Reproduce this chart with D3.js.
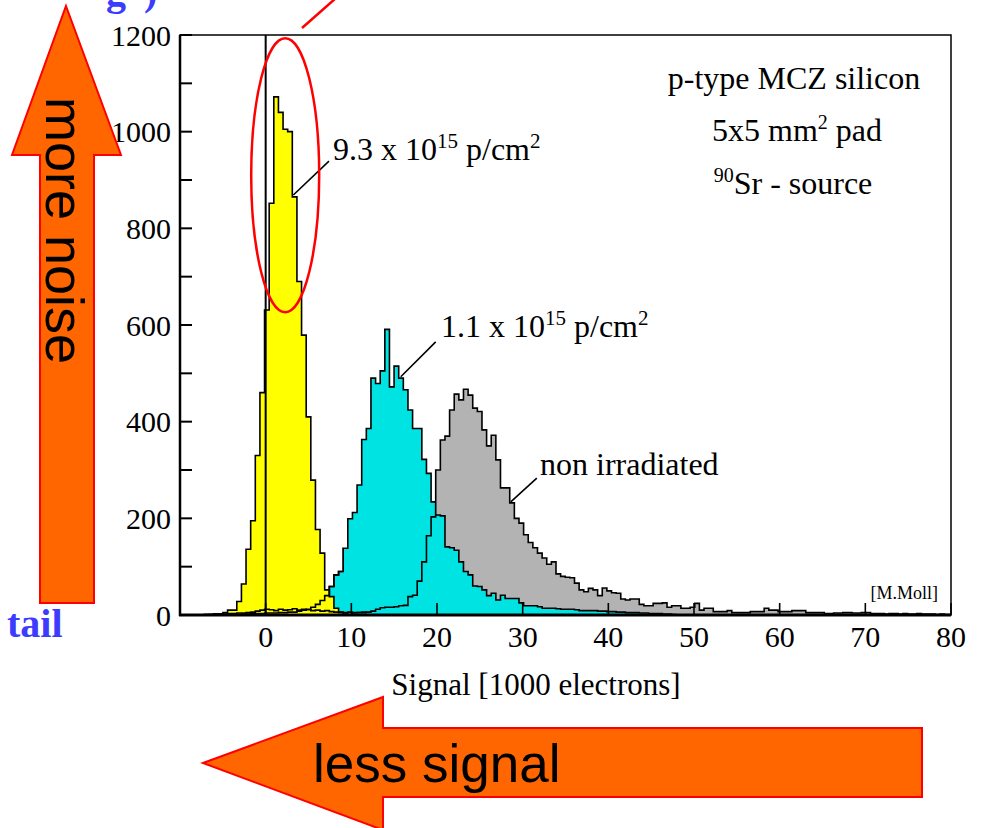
<!DOCTYPE html>
<html>
<head>
<meta charset="utf-8">
<script src="https://cdn.jsdelivr.net/npm/d3@7"></script>
<style>
  body { margin: 0; background: #fff; }
  svg { display: block; }
</style>
</head>
<body>
<svg id="chart" width="985" height="828"></svg>
<script>
// histogram bins: common width, each series given by the left edge of its first bin
const binWidth = 0.54;

const yellowStart = -6.61;   // 9.3 x 10^15 p/cm^2
const yellowCounts = [1, 2, 2, 5, 10, 10, 28, 64, 136, 195, 330, 460,
  631, 852, 1072, 1040, 1005, 1000, 865, 690, 579, 410, 279, 177, 128, 52, 38, 14, 5, 2];

const cyanStart = -3.91;     // 1.1 x 10^15 p/cm^2
const cyanCounts = [1, 1, 2, 2, 3, 3, 3, 4, 4, 4, 5, 5, 6, 6, 8, 10,
  12, 16, 22, 30, 40, 59, 83, 90, 138, 199, 212, 269, 363, 386, 490, 479, 505, 591,
  472, 515, 490, 466, 424, 386, 386, 322, 293, 234];

const cyan2Start = 10.13;
const cyan2Counts = [4, 5, 5, 6, 8, 12, 15, 16, 16, 17, 19, 20, 38, 41, 70, 110, 164, 203,
  207, 205, 141, 139, 134, 110, 90, 83, 60, 59, 52, 40, 45, 31, 41, 34, 34, 34, 25, 19,
  19, 19, 17, 14, 14, 14, 13, 12, 12, 12, 11, 9, 9, 9, 9, 8, 8, 7, 7, 6, 6, 5,
  5, 5, 4, 4, 3, 3, 3, 2, 2, 1];

const grayStart = -7.15;     // non irradiated
const grayCounts = [1, 1, 2, 2, 2, 3, 3, 4, 4, 5, 6,
  8, 10, 12, 11, 9, 12, 10, 11, 13, 10, 12, 11, 9, 10, 8, 9, 7,
  6, 6, 5, 6, 5, 5, 6, 5, 5, 4, 5, 5, 4, 5, 4, 5, 5, 6, 6, 7, 8, 10,
  300, 362, 370, 424, 457, 445, 467, 455, 428, 421, 383, 350, 372, 321, 263, 263, 232, 200,
  190, 166, 150, 139, 128, 118, 105, 110, 85, 80, 78, 77, 66, 52, 48, 55, 52, 40,
  56, 50, 46, 45, 33, 31, 33, 33, 22, 19, 19, 24, 24, 25, 16, 19, 19, 14, 14, 16,
  24, 10, 14, 14, 7, 7, 7, 9, 5, 5, 5, 5, 7, 7, 7, 14, 10, 10, 7, 7, 7, 9, 9, 9,
  5, 5, 5, 5, 3, 3, 4, 4, 5, 5, 4, 4, 5, 5, 3, 3, 3, 2, 3, 3, 2, 3, 2, 2, 3, 2,
  2, 2, 1, 2, 1, 1];

const xTicks = [0, 10, 20, 30, 40, 50, 60, 70, 80];
const yTicks = [0, 100, 200, 300, 400, 500, 600, 700, 800, 900, 1000, 1100, 1200];
const yLabels = [0, 200, 400, 600, 800, 1000, 1200];

const svg = d3.select('#chart');
const serif = '"Liberation Serif", "Times New Roman", serif';
const sans = '"Liberation Sans", Arial, sans-serif';

const x = d3.scaleLinear().domain([-10, 80]).range([180, 951]);
const y = d3.scaleLinear().domain([0, 1200]).range([615, 35]);

const defs = svg.append('defs');
defs.append('clipPath').attr('id', 'plot')
  .append('rect').attr('x', 180).attr('y', 35).attr('width', 771).attr('height', 580);
// low-signal strip where the other outlines show through the yellow peak
defs.append('clipPath').attr('id', 'low')
  .append('rect').attr('x', 180).attr('y', 35).attr('width', x(9) - 180).attr('height', 581);

const steps = (start, counts) => {
  const pts = [[start, 0]];
  counts.forEach((c, i) => pts.push([start + i * binWidth, c]));
  const end = start + counts.length * binWidth;
  pts.push([end, counts[counts.length - 1]], [end, 0]);
  return pts;
};

const cyan = { pts: steps(cyanStart, cyanCounts), fill: '#00e3e3' };
const gray = { pts: steps(grayStart, grayCounts), fill: '#b3b3b3' };
const cyan2 = { pts: steps(cyan2Start, cyan2Counts), fill: '#00e3e3' };
const yellow = { pts: steps(yellowStart, yellowCounts), fill: '#ffff00' };

const area = d3.area().curve(d3.curveStepAfter)
  .x(d => x(d[0])).y0(y(0)).y1(d => y(d[1]));
const line = d3.line().curve(d3.curveStepAfter)
  .x(d => x(d[0])).y(d => y(d[1]));

const g = svg.append('g').attr('clip-path', 'url(#plot)');
const drawFill = s => g.append('path').attr('d', area(s.pts)).attr('fill', s.fill);
const drawEdge = (s, parent = g) => parent.append('path').attr('d', line(s.pts))
  .attr('fill', 'none').attr('stroke', '#000').attr('stroke-width', 1.6);

[cyan, gray, cyan2].forEach(s => { drawFill(s); drawEdge(s); });
drawFill(yellow);
const low = g.append('g').attr('clip-path', 'url(#low)');
drawEdge(cyan, low);
drawEdge(gray, low);
drawEdge(yellow);

// zero line
svg.append('line')
  .attr('x1', x(0)).attr('x2', x(0)).attr('y1', y(0)).attr('y2', y(1200))
  .attr('stroke', '#000').attr('stroke-width', 2);

// frame
svg.append('rect').attr('x', 180).attr('y', 35).attr('width', 771).attr('height', 580)
  .attr('fill', 'none').attr('stroke', '#000').attr('stroke-width', 1.5);
svg.append('line').attr('x1', 179).attr('x2', 951).attr('y1', 615).attr('y2', 615)
  .attr('stroke', '#000').attr('stroke-width', 3);
svg.append('line').attr('x1', 180).attr('x2', 180).attr('y1', 35).attr('y2', 616)
  .attr('stroke', '#000').attr('stroke-width', 2.5);

// ticks
svg.selectAll('line.yt').data(yTicks).join('line').attr('class', 'yt')
  .attr('x1', 180).attr('x2', 192).attr('y1', d => y(d)).attr('y2', d => y(d))
  .attr('stroke', '#000').attr('stroke-width', 2);
svg.selectAll('line.xt').data(xTicks).join('line').attr('class', 'xt')
  .attr('x1', d => x(d)).attr('x2', d => x(d)).attr('y1', 615).attr('y2', 603)
  .attr('stroke', '#000').attr('stroke-width', 1.6);

svg.selectAll('text.yl').data(yLabels).join('text').attr('class', 'yl')
  .attr('x', 171).attr('y', d => y(d)).attr('dy', '0.35em')
  .attr('text-anchor', 'end').style('font', `30px ${serif}`).text(d => d);
svg.selectAll('text.xl').data(xTicks).join('text').attr('class', 'xl')
  .attr('x', d => x(d)).attr('y', 647)
  .attr('text-anchor', 'middle').style('font', `30px ${serif}`).text(d => d);

svg.append('text').attr('x', 536).attr('y', 695).attr('text-anchor', 'middle')
  .style('font', `31px ${serif}`).text('Signal [1000 electrons]');

// sample description
const info = svg.append('g').style('font', `32px ${serif}`).attr('text-anchor', 'middle');
info.append('text').attr('x', 794).attr('y', 89).text('p-type MCZ silicon');
const pad = info.append('text').attr('x', 797).attr('y', 141);
pad.append('tspan').text('5x5 mm');
pad.append('tspan').attr('dy', -12).style('font-size', '20px').text('2');
pad.append('tspan').attr('dy', 12).text(' pad');
const src = info.append('text').attr('x', 793).attr('y', 194);
src.append('tspan').attr('dy', -12).style('font-size', '20px').text('90');
src.append('tspan').attr('dy', 12).text('Sr - source');

svg.append('text').attr('x', 938).attr('y', 599).attr('text-anchor', 'end')
  .style('font', `18px ${serif}`).text('[M.Moll]');

// curve labels with leader lines (data coordinates)
const labels = [
  { text: '9.3 x 10', sup: '15', tail: ' p/cm', sup2: '2', tx: 333, ty: 160, from: [7.39, 939], to: [3.23, 869] },
  { text: '1.1 x 10', sup: '15', tail: ' p/cm', sup2: '2', tx: 441, ty: 337, from: [19.85, 565], to: [15.77, 493] },
  { text: 'non irradiated', tx: 540, ty: 475, from: [31.65, 283], to: [28.61, 234] }
];
labels.forEach(l => {
  svg.append('line')
    .attr('x1', x(l.from[0])).attr('y1', y(l.from[1]))
    .attr('x2', x(l.to[0])).attr('y2', y(l.to[1]))
    .attr('stroke', '#000').attr('stroke-width', 1.6);
  const t = svg.append('text').attr('x', l.tx).attr('y', l.ty).style('font', `32px ${serif}`);
  t.append('tspan').text(l.text);
  if (l.sup) {
    t.append('tspan').attr('dy', -12).style('font-size', '21px').text(l.sup);
    t.append('tspan').attr('dy', 12).text(l.tail);
    t.append('tspan').attr('dy', -12).style('font-size', '21px').text(l.sup2);
  }
});

// red highlight ellipse and pointer
svg.append('ellipse').attr('cx', x(2.28)).attr('cy', y(910)).attr('rx', 34).attr('ry', 137)
  .attr('fill', 'none').attr('stroke', '#ff0000').attr('stroke-width', 2.5);
svg.append('line').attr('x1', 302).attr('y1', 28).attr('x2', 336).attr('y2', -2)
  .attr('stroke', '#ff0000').attr('stroke-width', 2.5);

// orange arrows
svg.append('path')
  .attr('d', 'M66,6 L121,155 L94,155 L94,603 L40,603 L40,155 L12,155 Z')
  .attr('fill', '#ff6600').attr('stroke', '#ff0000').attr('stroke-width', 2);
svg.append('text').attr('transform', 'translate(46,97) rotate(90)')
  .style('font', `54px ${sans}`).attr('fill', '#000').text('more noise');

svg.append('path')
  .attr('d', 'M203,763 L383,697 L383,728 L922,728 L922,797 L383,797 L383,830 Z')
  .attr('fill', '#ff6600').attr('stroke', '#ff0000').attr('stroke-width', 2);
svg.append('text').attr('x', 313).attr('y', 782)
  .style('font', `53px ${sans}`).attr('fill', '#000').text('less signal');

// blue text fragments (the top one is cut off at the edge, as in the source slide)
svg.append('text').attr('x', 7).attr('y', 637)
  .style('font', `bold 40px ${serif}`).attr('fill', '#3c3cff').text('tail');
const cutTitle = svg.append('text').attr('y', 5)
  .style('font', `bold 40px ${serif}`).attr('fill', '#3c3cff');
cutTitle.append('tspan').attr('x', 106).text('g');
cutTitle.append('tspan').attr('x', 144).text(')');
</script>
</body>
</html>
